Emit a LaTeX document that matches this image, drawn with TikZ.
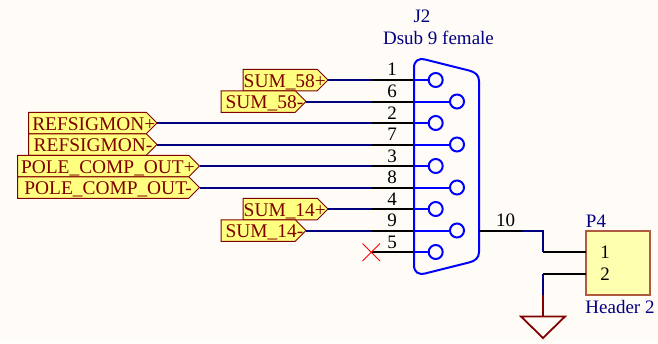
\documentclass[tikz,border=0pt]{standalone}
\usepackage{fontspec}
\setmainfont{Liberation Serif}
\usetikzlibrary{shapes.symbols}
\definecolor{paper}{HTML}{FFFCF8}
\definecolor{wirec}{HTML}{000080}
\definecolor{partc}{HTML}{0000FF}
\definecolor{portc}{HTML}{800000}
\definecolor{portf}{HTML}{FFFF80}
\definecolor{headf}{HTML}{FFFFB0}
\definecolor{headd}{HTML}{B05A40}
\tikzset{
  port/.style={shape=signal,signal to=east,signal pointer angle=90,draw=portc,fill=portf,line width=1pt,minimum height=21.5pt,inner sep=0pt,outer sep=0pt,anchor=east},
  porttxt/.style={anchor=base east,inner sep=0pt,text=portc,font=\fontsize{19.4}{19.4}\selectfont},
  wire/.style={draw=wirec,line width=2pt},
  pin/.style={draw=black,line width=2pt},
  part/.style={draw=partc,line width=2pt},
  hole/.style={circle,draw=partc,line width=2pt,minimum size=14pt,inner sep=0pt,outer sep=0pt},
  num/.style={inner sep=0pt,text=black,font=\fontsize{19}{19}\selectfont},
  desig/.style={inner sep=0pt,text=wirec,font=\fontsize{19}{19}\selectfont}
}
\begin{document}
\begin{tikzpicture}[x=1pt,y=-1pt]
  \fill[paper] (0,0) rectangle (658,343);
  \useasboundingbox (0,0) rectangle (658,343);
  % ports
  \node[port,minimum width=85pt] (s58p) at (328,80) {};
  \node[port,minimum width=85pt] (s58m) at (306,101.5) {};
  \node[port,minimum width=128.5pt] (refp) at (157,123) {};
  \node[port,minimum width=128.5pt] (refm) at (157,144.5) {};
  \node[port,minimum width=182pt] (polep) at (199.5,166) {};
  \node[port,minimum width=182pt] (polem) at (199.5,187.5) {};
  \node[port,minimum width=85pt] (s14p) at (328,209) {};
  \node[port,minimum width=85pt] (s14m) at (306,230.5) {};
  \node[porttxt] (t58p) at (326,87) {SUM\_58+};
  \node[porttxt] (t58m) at (303.5,108.5) {SUM\_58-};
  \node[porttxt] (trefp) at (155.5,130) {REFSIGMON+};
  \node[porttxt] (trefm) at (152.5,151.5) {REFSIGMON-};
  \node[porttxt] (tpolep) at (195,173) {POLE\_COMP\_OUT+};
  \node[porttxt] (tpolem) at (192,194.5) {POLE\_COMP\_OUT-};
  \node[porttxt] (t14p) at (326,216) {SUM\_14+};
  \node[porttxt] (t14m) at (303.5,237.5) {SUM\_14-};
  % wire ends
  \coordinate (w1) at (372,80);
  \coordinate (w6) at (372,101.5);
  \coordinate (w2) at (372,123);
  \coordinate (w7) at (372,144.5);
  \coordinate (w3) at (372,166);
  \coordinate (w8) at (372,187.5);
  \coordinate (w4) at (372,209);
  \coordinate (w9) at (372,230.5);
  \coordinate (w5) at (372,252);
  % holes
  \node[hole] (h1) at (435.7,80) {};
  \node[hole] (h6) at (457,101.5) {};
  \node[hole] (h2) at (435.7,123) {};
  \node[hole] (h7) at (457,144.5) {};
  \node[hole] (h3) at (435.7,166) {};
  \node[hole] (h8) at (457,187.5) {};
  \node[hole] (h4) at (435.7,209) {};
  \node[hole] (h9) at (457,230.5) {};
  \node[hole] (h5) at (435.7,252) {};
  % body edge
  \coordinate (e1) at (414,80);
  \coordinate (e6) at (414,101.5);
  \coordinate (e2) at (414,123);
  \coordinate (e7) at (414,144.5);
  \coordinate (e3) at (414,166);
  \coordinate (e8) at (414,187.5);
  \coordinate (e4) at (414,209);
  \coordinate (e9) at (414,230.5);
  \coordinate (e5) at (414,252);
  % blue wires
  \draw[wire] (s58p.east) -- (w1);
  \draw[wire] (s58m.east) -- (w6);
  \draw[wire] (refp.east) -- (w2);
  \draw[wire] (refm.east) -- (w7);
  \draw[wire] (polep.east) -- (w3);
  \draw[wire] (polem.east) -- (w8);
  \draw[wire] (s14p.east) -- (w4);
  \draw[wire] (s14m.east) -- (w9);
  % pins
  \draw[pin] (w1) -- (e1);
  \draw[pin] (w6) -- (e6);
  \draw[pin] (w2) -- (e2);
  \draw[pin] (w7) -- (e7);
  \draw[pin] (w3) -- (e3);
  \draw[pin] (w8) -- (e8);
  \draw[pin] (w4) -- (e4);
  \draw[pin] (w9) -- (e9);
  \draw[pin] (w5) -- (e5);
  \draw[part] (e1) -- (h1);
  \draw[part] (e6) -- (h6);
  \draw[part] (e2) -- (h2);
  \draw[part] (e7) -- (h7);
  \draw[part] (e3) -- (h3);
  \draw[part] (e8) -- (h8);
  \draw[part] (e4) -- (h4);
  \draw[part] (e9) -- (h9);
  \draw[part] (e5) -- (h5);
  % shell
  \draw[part] (414,68) .. controls (414,61) and (418,58) .. (425,59.5) -- (469,70.5)
    .. controls (475,72) and (479,75) .. (479,81) -- (479,252)
    .. controls (479,258) and (475,261) .. (469,262.5) -- (425,273.5)
    .. controls (418,275) and (414,272) .. (414,265) -- cycle;
  % numbers
  \node[num] (n1) at (392,69.5) {1};
  \node[num] (n6) at (392,91.5) {6};
  \node[num] (n2) at (392,113) {2};
  \node[num] (n7) at (392,134.5) {7};
  \node[num] (n3) at (392,156) {3};
  \node[num] (n8) at (392,177.5) {8};
  \node[num] (n4) at (392,199) {4};
  \node[num] (n9) at (392,220.5) {9};
  \node[num] (n5) at (392,242) {5};
  \node[desig] (j2) at (422,16) {J2};
  \node[desig] (dsub) at (438.5,37.5) {Dsub 9 female};
  % no connect
  \draw[red,line width=1pt] (362.5,243.5) -- (380,261);
  \draw[red,line width=1pt] (380,243.5) -- (362.5,261);
  % header
  \node[draw=headd,fill=headf,line width=1.5pt,minimum size=64pt,inner sep=0pt,outer sep=0pt] (p4) at (618,263) {};
  \node[desig] (p4d) at (596,221) {P4};
  \node[desig] (hdr) at (620,307) {Header 2};
  \node[num] (h41) at (605,252) {1};
  \node[num] (h42) at (605,274) {2};
  \node[desig,text=black] (n10) at (505.5,220) {10};
  \coordinate (a1) at (479,230.5);
  \coordinate (a2) at (522,230.5);
  \coordinate (a3) at (543,230.5);
  \coordinate (a4) at (543,252);
  \coordinate (a5) at (586,252);
  \coordinate (b1) at (586,273.5);
  \coordinate (b2) at (543,273.5);
  \coordinate (b3) at (543,295);
  \coordinate (b4) at (543,316.5);
  \draw[pin] (a1) -- (a2);
  \draw[wire] (a2) -- (a3) -- (a4);
  \draw[pin] (a4) -- (a5);
  \draw[pin] (b1) -- (b2);
  \draw[wire] (b2) -- (b3);
  \draw[draw=portc,line width=1.8pt] (b3) -- (b4);
  \draw[draw=portc,line width=1.8pt] (521,316.5) -- (565,316.5) -- (543,338) -- cycle;
\end{tikzpicture}
\end{document}
